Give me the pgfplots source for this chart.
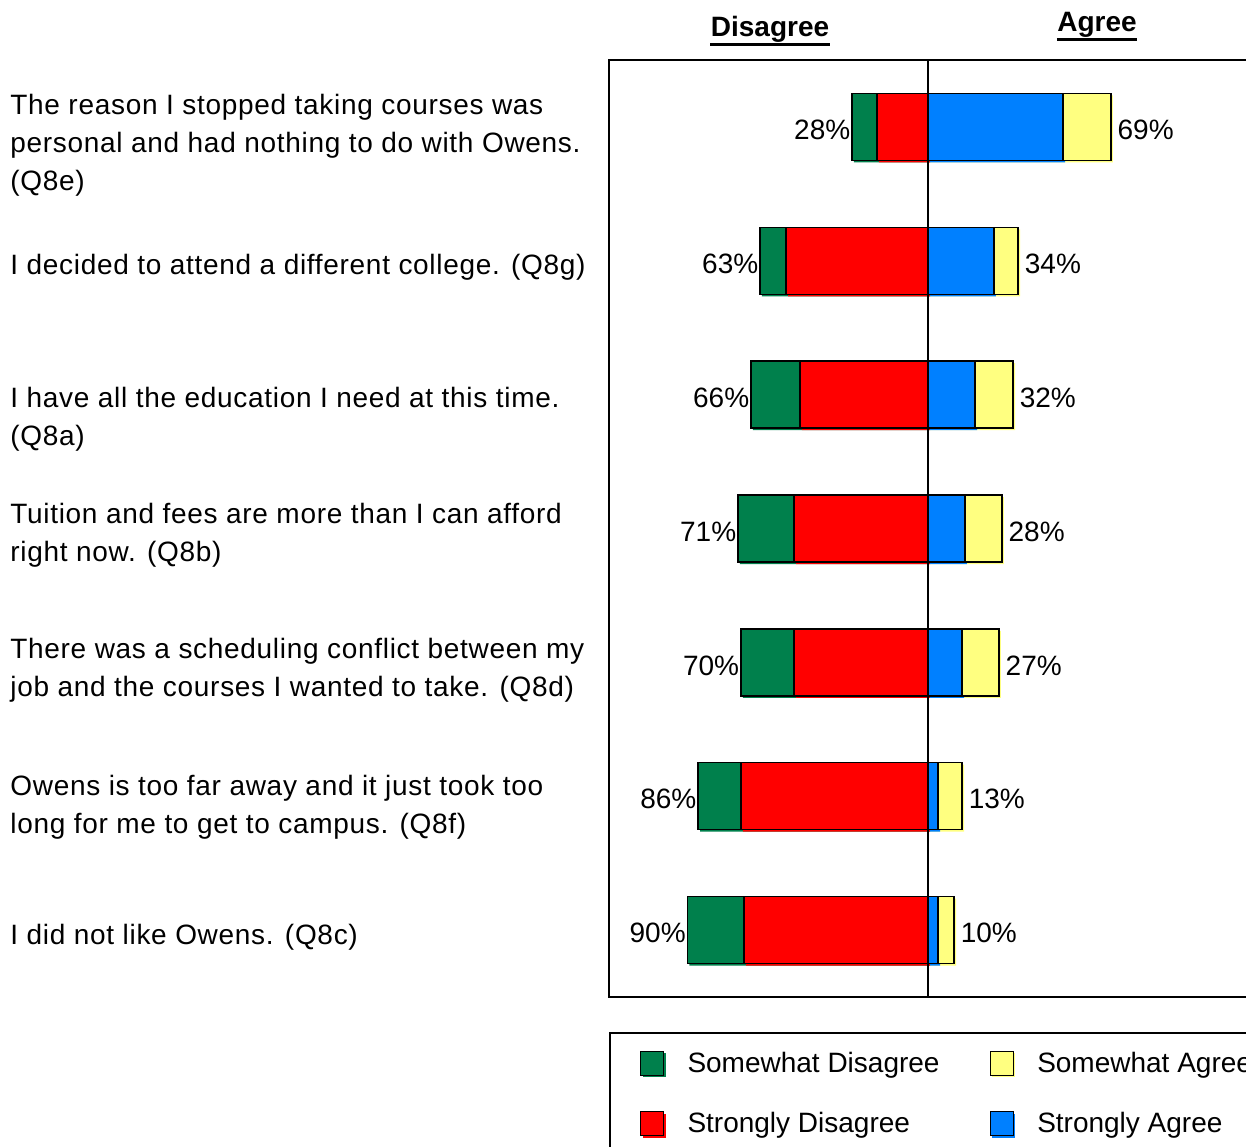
\documentclass[border=0pt]{standalone}
\usepackage{fontspec}
\setmainfont{Liberation Sans}
\newfontfamily\catfont[LetterSpace=2.5]{Liberation Sans}
\usepackage{pgfplots}
\usepackage{pgfplotstable}
\pgfplotsset{compat=1.18}
\definecolor{cgreen}{RGB}{0,128,76}
\definecolor{cred}{RGB}{255,0,0}
\definecolor{cblue}{RGB}{0,128,255}
\definecolor{cyellow}{RGB}{255,255,128}
\newcommand{\cat}[2][0pt]{\raisebox{-#1}[\height][\depth]{\begin{tabular}{@{}l@{}}#2\end{tabular}}}
% row: category position; dtot/atot: total disagree/agree (outer end of bar);
% sd/sa: strongly disagree / strongly agree segment (next to centre)
\pgfplotstableread{
row dtot dlab atot alab sd sa
1 -28.6 28 68.8 69 -19.2 50.8
2 -63.2 63 33.9 34 -53.4 24.8
3 -66.6 66 32.0 32 -48.2 17.7
4 -71.5 71 27.8 28 -50.4 13.9
5 -70.4 70 26.7 27 -50.4 12.8
6 -86.5 86 12.8 13 -70.4 3.8
7 -90.5 90 9.8 10 -69.2 3.8
}\data
\pgfplotsset{
  mybar/.style={xbar, bar shift=0pt, draw=black, line width=0.75pt,
    legend image code/.code={
      \path[##1, draw=none] (1pt,-7pt) rectangle (12.5pt,5pt);
      \draw[##1, line width=0.75pt] (0pt,-6pt) rectangle (11.5pt,6pt);}},
  shadow/.style={xbar, bar shift=0pt, draw=none, xshift=1pt, yshift=-1pt, forget plot},
  negl/.style={nodes near coords={\pgfplotspointmeta\%}, point meta=explicit symbolic,
    every node near coord/.append style={anchor=east, inner sep=0.5pt, yshift=-1.5pt, font=\fontsize{14}{17}\selectfont, text=black}},
  posl/.style={nodes near coords={\pgfplotspointmeta\%}, point meta=explicit symbolic,
    every node near coord/.append style={anchor=west, inner sep=0pt, xshift=3pt, yshift=-1.5pt, font=\fontsize{14}{17}\selectfont, text=black}},
}
\begin{document}
\begin{tikzpicture}
\useasboundingbox (0,0) rectangle (623pt,-573pt);
\begin{axis}[
  at={(304.5pt,-30pt)}, anchor=north west,
  scale only axis, width=319pt, height=468.5pt,
  xmin=-120, xmax=120, ymin=0.5, ymax=7.5, y dir=reverse,
  axis line style={line width=0.75pt},
  xtick=\empty,
  ytick={1,2,3,4,5,6,7},
  yticklabels={
    {\cat[9pt]{The reason I stopped taking courses was\\personal and had nothing to do with Owens.\\(Q8e)}},
    {\cat[3pt]{I decided to attend a different college. (Q8g)}},
    {\cat[12pt]{I have all the education I need at this time.\\(Q8a)}},
    {\cat[3pt]{Tuition and fees are more than I can afford\\right now. (Q8b)}},
    {\cat[4pt]{There was a scheduling conflict between my\\job and the courses I wanted to take. (Q8d)}},
    {\cat[5.5pt]{Owens is too far away and it just took too\\long for me to get to campus. (Q8f)}},
    {\cat[3.5pt]{I did not like Owens. (Q8c)}}},
  major tick length=0pt,
  yticklabel style={anchor=west, xshift=-299.5pt, inner sep=0pt, font=\catfont\fontsize{14}{19}\selectfont},
  bar width=33.5pt,
  legend columns=2,
  legend style={at={(0,0)}, anchor=north west, yshift=-17.5pt, draw=black, line width=0.75pt,
    inner xsep=15pt, inner ysep=7.5pt, row sep=14.5pt, font=\fontsize{14}{17}\selectfont,
    /tikz/every odd column/.append style={column sep=9pt},
    /tikz/every even column/.append style={column sep=0pt}},
  legend cell align=left,
]
% offset fills (the drop shadow seen under each bar)
\addplot[shadow, fill=cgreen] table[x=dtot, y=row] {\data};
\addplot[shadow, fill=cyellow] table[x=atot, y=row] {\data};
\addplot[shadow, fill=cred] table[x=sd, y=row] {\data};
\addplot[shadow, fill=cblue] table[x=sa, y=row] {\data};
% Disagree total (green = somewhat, outer part)
\addplot[mybar, fill=cgreen, negl] table[x=dtot, y=row, meta=dlab] {\data};
\addlegendentry{\makebox[149pt][l]{Somewhat Disagree}}
% Agree total (yellow = somewhat, outer part)
\addplot[mybar, fill=cyellow, posl] table[x=atot, y=row, meta=alab] {\data};
\addlegendentry{\makebox[149pt][l]{Somewhat Agree}}
% Strongly disagree
\addplot[mybar, fill=cred] table[x=sd, y=row] {\data};
\addlegendentry{\makebox[149pt][l]{Strongly Disagree}}
% Strongly agree
\addplot[mybar, fill=cblue] table[x=sa, y=row] {\data};
\addlegendentry{\makebox[149pt][l]{Strongly Agree}}
\draw[line width=0.75pt] (axis cs:0,0.5) -- (axis cs:0,7.5);
\end{axis}
\node[font=\bfseries\fontsize{14}{17}\selectfont, inner sep=0pt, anchor=base] (d) at (385pt,-18pt) {Disagree};
\draw[line width=1.5pt] ([yshift=-1pt]d.south west) -- ([yshift=-1pt]d.south east);
\node[font=\bfseries\fontsize{14}{17}\selectfont, inner sep=0pt, anchor=base] (a) at (548.5pt,-15.5pt) {Agree};
\draw[line width=1.5pt] ([yshift=-1pt]a.south west) -- ([yshift=-1pt]a.south east);
\end{tikzpicture}
\end{document}
